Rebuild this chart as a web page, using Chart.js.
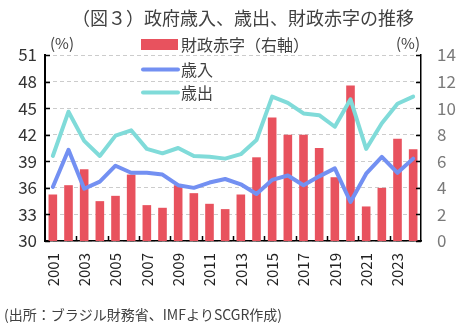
<!DOCTYPE html>
<html>
<head>
<meta charset="utf-8">
<script src="https://cdn.jsdelivr.net/npm/chart.js@4"></script>
<style>
  html, body { margin: 0; padding: 0; background: #fff; }
  #wrap { position: relative; width: 476px; height: 332px; }
</style>
</head>
<body>
<div id="wrap"><canvas id="fiscalChart" width="476" height="332"></canvas></div>
<script>
// Brazil: government revenue / expenditure (% of GDP, left) and fiscal deficit (right)
const years = ['2001','2002','2003','2004','2005','2006','2007','2008','2009','2010','2011','2012',
               '2013','2014','2015','2016','2017','2018','2019','2020','2021','2022','2023','2024'];
const deficit = [3.5, 4.2, 5.4, 3.0, 3.4, 5.0, 2.7, 2.5, 4.2, 3.6, 2.8, 2.4,
                 3.5, 6.3, 9.3, 8.0, 8.0, 7.0, 4.8, 11.7, 2.6, 4.0, 7.7, 6.9];
const revenue = [36.1, 40.3, 35.9, 36.7, 38.5, 37.7, 37.7, 37.5, 36.3, 36.0, 36.6, 37.0,
                 36.4, 35.3, 36.9, 37.4, 36.3, 37.3, 38.2, 34.4, 37.6, 39.5, 37.7, 39.3];
const expenditure = [39.6, 44.6, 41.3, 39.6, 41.9, 42.5, 40.4, 39.9, 40.5, 39.6, 39.5, 39.3,
                     39.8, 41.4, 46.3, 45.6, 44.4, 44.2, 42.9, 46.0, 40.4, 43.3, 45.5, 46.3];
const leftTicks = [30, 33, 36, 39, 42, 45, 48, 51];
const rightTicks = [0, 2, 4, 6, 8, 10, 12, 14];

const JP = '"Noto Sans CJK JP", "Noto Sans", sans-serif';
const RED = '#e8525e';
const BLUE = '#7390f2';
const CYAN = '#80dbd9';

// titles, legend, unit labels, inner tick marks and source note
const decorations = {
  id: 'decorations',
  afterDraw(chart) {
    const ctx = chart.ctx;
    const area = chart.chartArea;
    const yL = chart.scales.y;
    ctx.save();

    ctx.fillStyle = '#404040';
    ctx.font = '18px ' + JP;
    ctx.textAlign = 'center';
    ctx.textBaseline = 'middle';
    ctx.fillText('（図３）政府歳入、歳出、財政赤字の推移', 243, 18);

    ctx.font = '15px ' + JP;
    ctx.fillText('(%)', 62, 43);
    ctx.fillText('(%)', 408, 43);

    // legend
    ctx.textAlign = 'left';
    ctx.fillStyle = RED;
    ctx.fillRect(141, 39, 37, 11);
    ctx.lineWidth = 4;
    ctx.lineCap = 'round';
    ctx.strokeStyle = BLUE;
    ctx.beginPath(); ctx.moveTo(143, 69.5); ctx.lineTo(178, 69.5); ctx.stroke();
    ctx.strokeStyle = CYAN;
    ctx.beginPath(); ctx.moveTo(143, 92.5); ctx.lineTo(178, 92.5); ctx.stroke();
    ctx.fillStyle = '#404040';
    ctx.font = '16px ' + JP;
    ctx.fillText('財政赤字（右軸）', 181, 45);
    ctx.fillText('歳入', 181, 70);
    ctx.fillText('歳出', 181, 93);

    // inner tick marks
    ctx.strokeStyle = '#000';
    ctx.lineWidth = 1.5;
    ctx.lineCap = 'butt';
    ctx.beginPath();
    leftTicks.forEach(v => {
      const py = Math.round(yL.getPixelForValue(v)) + 0.5;
      ctx.moveTo(area.left, py); ctx.lineTo(area.left + 5, py);
      ctx.moveTo(area.right, py); ctx.lineTo(area.right - 5, py);
    });
    const step = (area.right - area.left) / years.length;
    for (let i = 2; i < years.length; i += 2) {
      const px = Math.round(area.left + i * step) + 0.5;
      ctx.moveTo(px, area.bottom); ctx.lineTo(px, area.bottom - 5);
    }
    ctx.stroke();

    ctx.font = '14px ' + JP;
    ctx.fillStyle = '#404040';
    ctx.fillText('(出所：ブラジル財務省、IMFよりSCGR作成)', 4, 315);
    ctx.restore();
  }
};

new Chart(document.getElementById('fiscalChart'), {
  data: {
    labels: years,
    datasets: [
      {
        type: 'line', label: '歳入', data: revenue, yAxisID: 'y', order: 1,
        borderColor: BLUE, borderWidth: 4, pointRadius: 0, tension: 0,
        borderJoinStyle: 'round', borderCapStyle: 'round'
      },
      {
        type: 'line', label: '歳出', data: expenditure, yAxisID: 'y', order: 1,
        borderColor: CYAN, borderWidth: 4, pointRadius: 0, tension: 0,
        borderJoinStyle: 'round', borderCapStyle: 'round'
      },
      {
        type: 'bar', label: '財政赤字（右軸）', data: deficit, yAxisID: 'y1', order: 2,
        backgroundColor: RED, categoryPercentage: 0.55, barPercentage: 1
      }
    ]
  },
  options: {
    responsive: false,
    animation: false,
    layout: { padding: { top: 55, left: 0, right: 0, bottom: 0 } },
    plugins: { legend: { display: false }, tooltip: { enabled: false }, title: { display: false } },
    scales: {
      x: {
        grid: { display: false, drawTicks: false },
        border: { display: true, color: '#000', width: 1.5 },
        ticks: {
          autoSkip: false, maxRotation: 90, minRotation: 90, padding: 12,
          color: '#222', font: { family: JP, size: 15 },
          callback: (v, i) => (i % 2 === 0 ? years[i] : '')
        },
        afterFit: s => { s.height = 91; }
      },
      y: {
        position: 'left', min: 30, max: 51,
        afterBuildTicks: s => { s.ticks = leftTicks.map(v => ({ value: v })); },
        grid: { color: '#cccccc', drawTicks: false, lineWidth: 1 },
        border: { display: true, color: '#000', width: 2, dash: [4, 3] },
        ticks: { color: '#333', font: { family: JP, size: 17 }, padding: 8 },
        afterFit: s => { s.width = 45; }
      },
      y1: {
        position: 'right', min: 0, max: 14,
        afterBuildTicks: s => { s.ticks = rightTicks.map(v => ({ value: v })); },
        grid: { display: false, drawTicks: false },
        border: { display: true, color: '#000', width: 1.5 },
        ticks: { color: '#7a7a7a', font: { family: JP, size: 17 }, padding: 16 },
        afterFit: s => { s.width = 55; }
      }
    }
  },
  plugins: [decorations]
});
</script>
</body>
</html>
